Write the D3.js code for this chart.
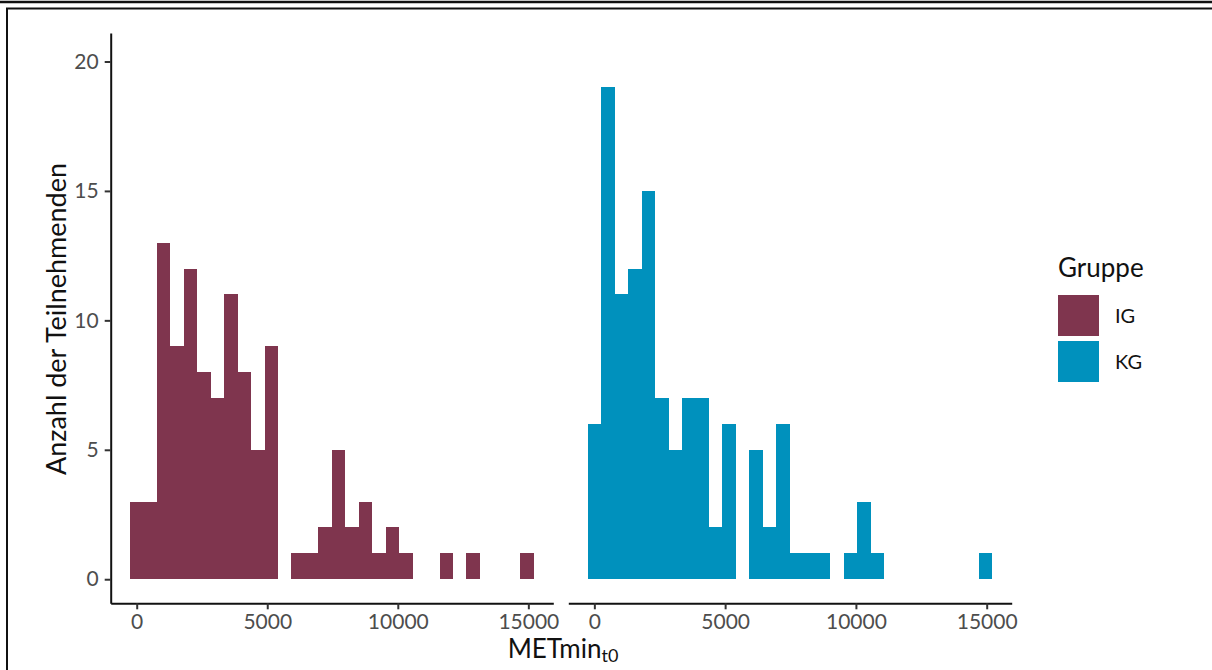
<!DOCTYPE html>
<html lang="de">
<head>
<meta charset="utf-8">
<title>METmin t0 Histogramm</title>
<script src="https://d3js.org/d3.v7.min.js"></script>
<style>
  body { margin: 0; background: #fff; }
  svg { display: block; font-family: Lato, "Open Sans", sans-serif; }
</style>
</head>
<body>
<script>
// histogram bins (width ~515.5, centred on k * width)
var binWidth = 515.5;
var binIndex = d3.range(30);
var countsIG = [3,3,13,9,12,8,7,11,8,5,9,0,1,1,2,5,2,3,1,2,1,0,0,1,0,1,0,0,0,1];
var countsKG = [6,19,11,12,15,7,5,7,7,2,6,0,5,2,6,1,1,1,0,1,3,1,0,0,0,0,0,0,0,1];
var groups = ["IG", "KG"];
var xTicks = [0, 5000, 10000, 15000];
var yTicks = [0, 5, 10, 15, 20];

var colors = { IG: "#7F354E", KG: "#0091BD" };
var series = { IG: countsIG, KG: countsKG };

var W = 1212, H = 670;
var svg = d3.select("body").append("svg")
    .attr("width", W)
    .attr("height", H);

// outer frame of the screenshot
svg.append("line")
    .attr("x1", 0).attr("x2", W).attr("y1", 2).attr("y2", 2)
    .attr("stroke", "#111").attr("stroke-width", 2.5);
svg.append("path")
    .attr("d", "M7," + H + "V8.5H" + W)
    .attr("fill", "none").attr("stroke", "#111").attr("stroke-width", 2);

var y = d3.scaleLinear().domain([-0.93, 21.1]).range([603.3, 33]);
var panels = [
  { g: "IG", range: [110.7, 553.3] },
  { g: "KG", range: [568.3, 1011.7] }
];

panels.forEach(function(p) {
  var x = d3.scaleLinear().domain([-996, 15956]).range(p.range);
  var g = svg.append("g");

  g.selectAll("rect")
    .data(binIndex.filter(function(k) { return series[p.g][k] > 0; }))
    .enter().append("rect")
    .attr("x", function(k) { return x(k * binWidth - binWidth / 2); })
    .attr("width", function(k) { return x(k * binWidth + binWidth / 2) - x(k * binWidth - binWidth / 2); })
    .attr("y", function(k) { return y(series[p.g][k]); })
    .attr("height", function(k) { return y(0) - y(series[p.g][k]); })
    .attr("fill", colors[p.g])
    .attr("shape-rendering", "crispEdges");

  var xAxis = g.append("g")
    .attr("transform", "translate(0," + y.range()[0] + ")")
    .call(d3.axisBottom(x).tickValues(xTicks).tickFormat(d3.format("d"))
      .tickSize(6).tickSizeOuter(0).tickPadding(5));
  xAxis.select(".domain").attr("stroke", "#111").attr("stroke-width", 2);
  xAxis.selectAll(".tick line").attr("stroke", "#333").attr("stroke-width", 2);
  xAxis.selectAll(".tick text")
    .attr("fill", "#4D4D4D").attr("font-size", 21)
    .attr("font-family", "Lato, sans-serif");
});

// y axis (left panel only)
var yAxis = svg.append("g")
  .attr("transform", "translate(110.7,0)")
  .call(d3.axisLeft(y).tickValues(yTicks).tickSize(6).tickSizeOuter(0).tickPadding(6));
yAxis.select(".domain").attr("stroke", "#111").attr("stroke-width", 2);
yAxis.selectAll(".tick line").attr("stroke", "#333").attr("stroke-width", 2);
yAxis.selectAll(".tick text")
  .attr("fill", "#4D4D4D").attr("font-size", 21)
  .attr("font-family", "Lato, sans-serif");

// axis titles
var xt = svg.append("text")
  .attr("x", 563).attr("y", 658)
  .attr("text-anchor", "middle")
  .attr("font-size", 26).attr("fill", "#111");
xt.append("tspan").text("METmin");
xt.append("tspan").attr("font-size", 18).attr("dy", 4).text("t0");

svg.append("text")
  .attr("transform", "translate(66,319) rotate(-90)")
  .attr("text-anchor", "middle")
  .attr("font-size", 27).attr("fill", "#111")
  .text("Anzahl der Teilnehmenden");

// legend
var legend = svg.append("g").attr("transform", "translate(1058,0)");
legend.append("text")
  .attr("x", 0).attr("y", 277)
  .attr("font-size", 26).attr("fill", "#111")
  .text("Gruppe");
groups.forEach(function(name, i) {
  legend.append("rect")
    .attr("x", 0).attr("y", 295 + i * 46)
    .attr("width", 41).attr("height", 41)
    .attr("fill", colors[name]);
  legend.append("text")
    .attr("x", 57).attr("y", 323 + i * 46)
    .attr("font-size", 20).attr("fill", "#111")
    .text(name);
});
</script>
</body>
</html>
